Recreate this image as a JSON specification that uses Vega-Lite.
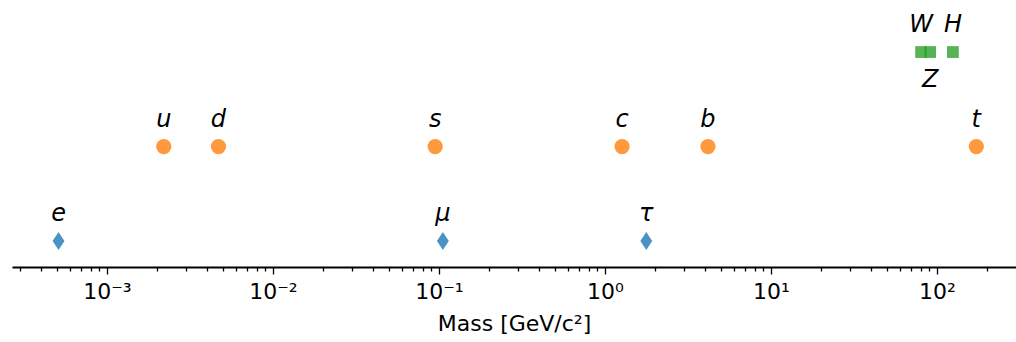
{
  "$schema": "https://vega.github.io/schema/vega-lite/v6.json",
  "width": 1004,
  "height": 267,
  "autosize": {"type": "none"},
  "padding": {"left": 12, "top": 0, "right": 0, "bottom": 75},
  "background": "white",
  "config": {"view": {"stroke": null}, "font": "DejaVu Sans"},
  "data": {
    "values": [
      {"name": "e", "mass": 0.000511, "family": "lepton"},
      {"name": "μ", "mass": 0.1057, "family": "lepton"},
      {"name": "τ", "mass": 1.777, "family": "lepton"},
      {"name": "u", "mass": 0.0022, "family": "quark"},
      {"name": "d", "mass": 0.0047, "family": "quark"},
      {"name": "s", "mass": 0.095, "family": "quark"},
      {"name": "c", "mass": 1.27, "family": "quark"},
      {"name": "b", "mass": 4.18, "family": "quark"},
      {"name": "t", "mass": 173, "family": "quark"},
      {"name": "W", "mass": 80.4, "family": "boson"},
      {"name": "Z", "mass": 91.2, "family": "boson"},
      {"name": "H", "mass": 125, "family": "boson"}
    ]
  },
  "encoding": {
    "x": {
      "field": "mass",
      "type": "quantitative",
      "scale": {"type": "log", "domain": [0.000268, 300], "nice": false},
      "axis": {
        "values": [0.0003, 0.0004, 0.0005, 0.0006, 0.0007, 0.0008, 0.0009, 0.001, 0.002, 0.003, 0.004, 0.005, 0.006, 0.007, 0.008, 0.009, 0.01, 0.02, 0.03, 0.04, 0.05, 0.06, 0.07, 0.08, 0.09, 0.1, 0.2, 0.3, 0.4, 0.5, 0.6, 0.7, 0.8, 0.9, 1, 2, 3, 4, 5, 6, 7, 8, 9, 10, 20, 30, 40, 50, 60, 70, 80, 90, 100, 200],
        "labelExpr": "datum.value == 0.001 ? '10⁻³' : datum.value == 0.01 ? '10⁻²' : datum.value == 0.1 ? '10⁻¹' : datum.value == 1 ? '10⁰' : datum.value == 10 ? '10¹' : datum.value == 100 ? '10²' : ''",
        "tickSize": {"condition": {"test": "indexof([0.001, 0.01, 0.1, 1, 10, 100], datum.value) >= 0", "value": 7}, "value": 4},
        "tickWidth": 1.3,
        "tickColor": "black",
        "domainColor": "black",
        "domainWidth": 2,
        "grid": false,
        "labelFontSize": 22,
        "labelColor": "black",
        "labelPadding": 7,
        "labelFlush": false,
        "labelOverlap": false,
        "title": "Mass [GeV/c²]",
        "titleFontSize": 22,
        "titleFontWeight": "normal",
        "titleColor": "black",
        "titlePadding": 11
      }
    },
    "y": {
      "field": "family",
      "type": "nominal",
      "scale": {"domain": ["boson", "quark", "lepton"], "padding": 0.413, "align": 0.667},
      "axis": null
    }
  },
  "layer": [
    {
      "mark": {"type": "point", "filled": true, "opacity": 0.8},
      "encoding": {
        "shape": {
          "field": "family",
          "type": "nominal",
          "scale": {"domain": ["lepton", "quark", "boson"], "range": ["M0,-1L0.66,0L0,1L-0.66,0Z", "circle", "square"]},
          "legend": null
        },
        "color": {
          "field": "family",
          "type": "nominal",
          "scale": {"domain": ["lepton", "quark", "boson"], "range": ["#1f77b4", "#ff7f0e", "#2ca02c"]},
          "legend": null
        },
        "size": {
          "field": "family",
          "type": "nominal",
          "scale": {"domain": ["lepton", "quark", "boson"], "range": [324, 139, 177]},
          "legend": null
        }
      }
    },
    {
      "transform": [{"filter": "datum.name != 'Z'"}],
      "mark": {"type": "text", "dy": -20, "fontStyle": "italic", "fontSize": 24, "baseline": "alphabetic", "color": "black"},
      "encoding": {"text": {"field": "name", "type": "nominal"}}
    },
    {
      "transform": [{"filter": "datum.name == 'Z'"}],
      "mark": {"type": "text", "dy": 35, "fontStyle": "italic", "fontSize": 24, "baseline": "alphabetic", "color": "black"},
      "encoding": {"text": {"field": "name", "type": "nominal"}}
    }
  ]
}
